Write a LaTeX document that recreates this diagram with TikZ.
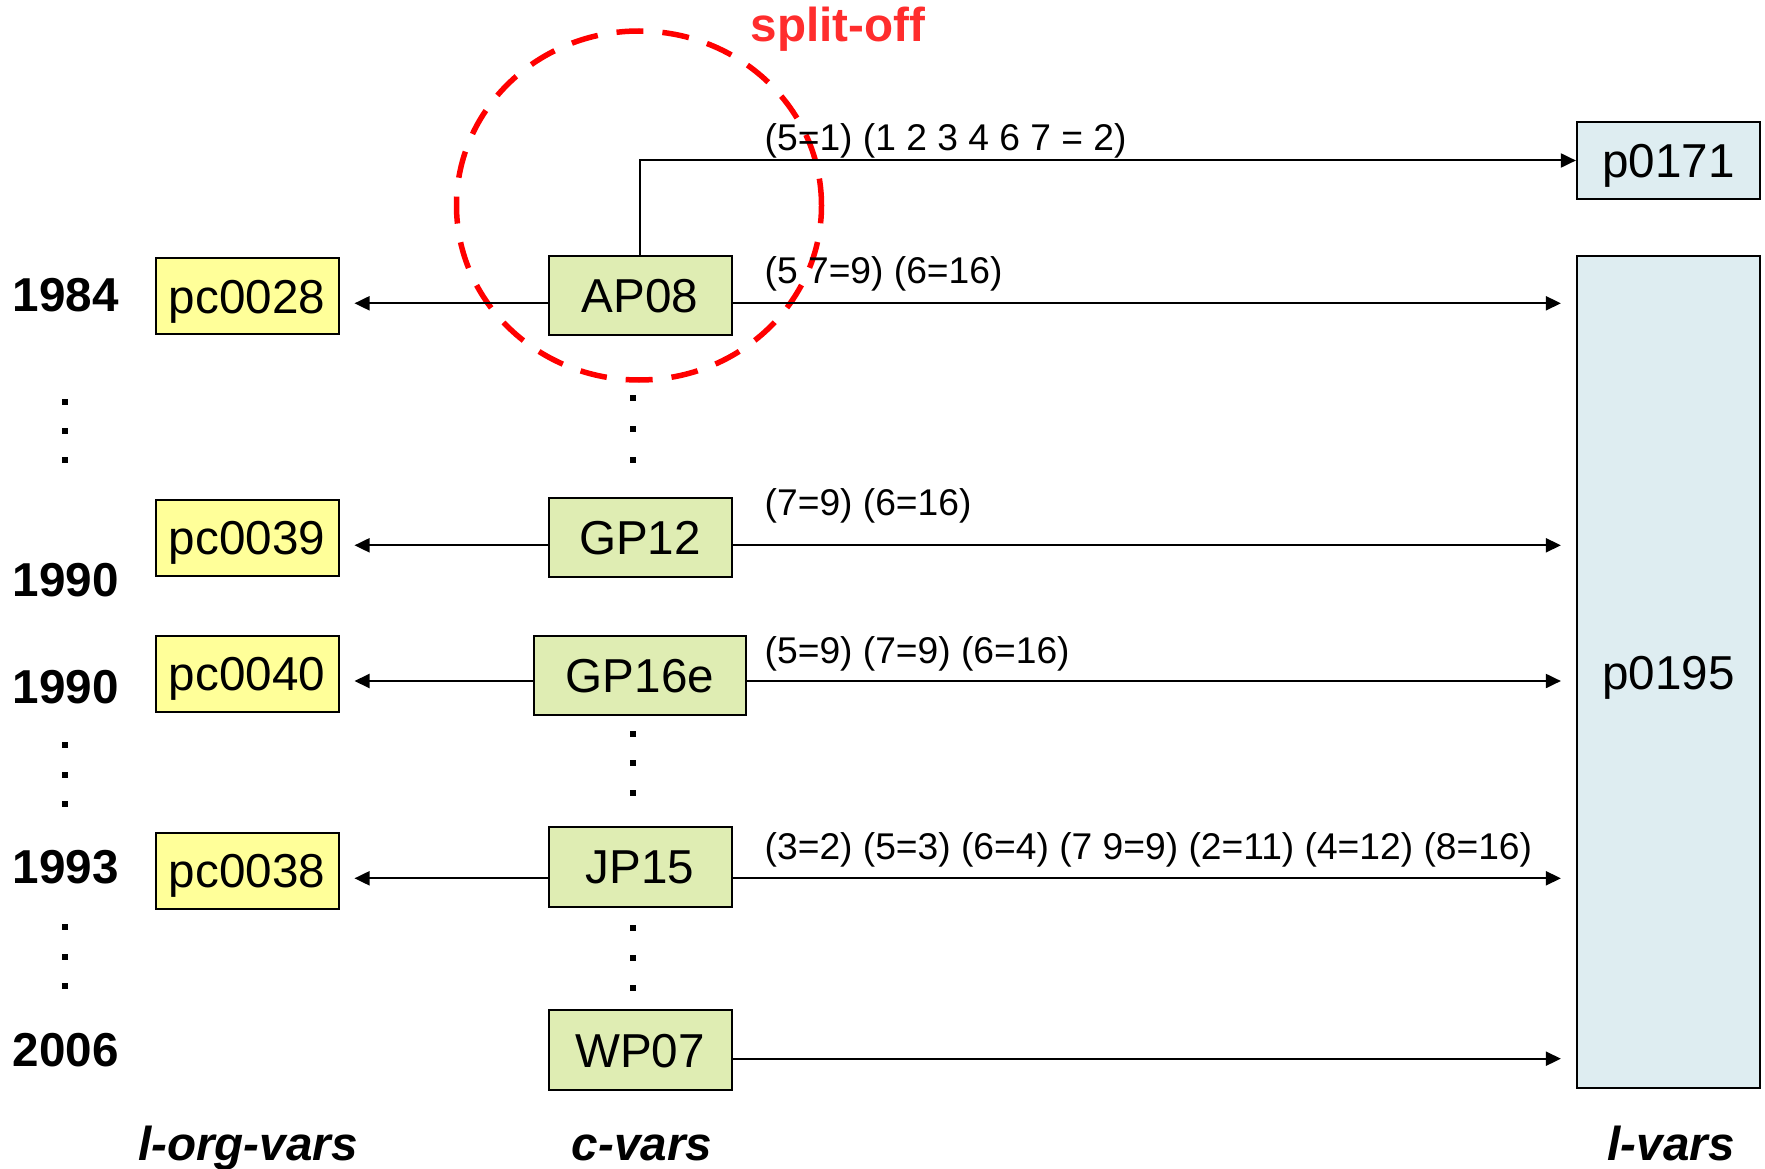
\documentclass[tikz,border=0pt]{standalone}
\usepackage{fontspec}
\setmainfont{Liberation Sans}
\usetikzlibrary{arrows.meta}
\definecolor{orgyellow}{RGB}{255,255,153}
\definecolor{cgreen}{RGB}{223,237,179}
\definecolor{lblue}{RGB}{222,237,241}
\definecolor{splitred}{RGB}{255,45,45}
\newcommand\fntbox{\fontsize{47.6}{56}\selectfont}
\newcommand\fntlbl{\fontsize{37.2}{44}\selectfont}

\begin{document}
\begin{tikzpicture}[x=1pt,y=-1pt,
  vbox/.style={draw=black, line width=2pt, inner sep=0pt, minimum width=183pt,
    text height=34pt, text depth=0pt, font=\fntbox},
  orgbox/.style={vbox, fill=orgyellow, minimum height=76pt},
  cbox/.style={vbox, fill=cgreen, minimum height=79pt},
  lbox/.style={vbox, fill=lblue},
  link/.style={line width=2pt, -{Triangle[length=15pt,width=14pt]}},
  lbl/.style={anchor=base west, inner sep=0pt, font=\fntlbl},
  year/.style={anchor=base west, inner sep=0pt, font=\fntbox\bfseries},
  colhead/.style={anchor=base, inner sep=0pt, font=\fntbox\bfseries\itshape},
  ring/.style={draw=red, line width=5.5pt, dash pattern=on 27pt off 19pt}
]
\useasboundingbox (0,0) rectangle (1765,1169);

% dashed ring marking the split-off
\draw[ring] (639,205.5) ellipse [x radius=182.5pt, y radius=174.5pt];
\node[anchor=base west, inner sep=0pt, text=splitred, font=\fntbox\bfseries]
  (split) at (750.5,41.7) {split-off};

% l-org-vars
\node[orgbox] (pc0028) at (247,296)   {pc0028};
\node[orgbox] (pc0039) at (247,537.5) {pc0039};
\node[orgbox] (pc0040) at (247,673.7) {pc0040};
\node[orgbox] (pc0038) at (247,870.5) {pc0038};

% c-vars
\node[cbox] (AP08) at (640,295.5) {AP08};
\node[cbox] (GP12) at (640,537.5) {GP12};
\node[cbox, minimum width=212pt] (GP16e) at (640,675) {GP16e};
\node[cbox, minimum height=80pt] (JP15) at (640,866.7) {JP15};
\node[cbox, minimum height=80pt] (WP07) at (640,1050) {WP07};

% l-vars
\node[lbox, minimum height=77.6pt] (p0171) at (1668.4,160.5) {p0171};
\node[lbox, minimum height=832pt] (p0195) at (1668.4,672) {p0195};

% years
\node[year] (y1984) at (12.5,311.7) {1984};
\node[year] (y1990a) at (12.5,596) {1990};
\node[year] (y1990b) at (12.5,703.3) {1990};
\node[year] (y1993) at (12.5,883.3) {1993};
\node[year] (y2006) at (12.5,1066.7) {2006};

% column headings
\node[colhead] (hOrg) at (248,1160) {l-org-vars};
\node[colhead] (hC)   at (642,1160) {c-vars};
\node[colhead] (hL)   at (1671,1160) {l-vars};

% row heights of the connectors
\coordinate (rA) at (0,303.3);
\coordinate (rB) at (0,545.3);
\coordinate (rC) at (0,681);
\coordinate (rD) at (0,878.3);
\coordinate (rE) at (0,1058.7);

% connectors
\draw[link] (AP08.north) |- (p0171.west);
\draw[link, shorten >=15pt] (AP08.west |- rA) -- (pc0028.east |- rA);
\draw[link, shorten >=15pt] (AP08.east |- rA) -- (p0195.west |- rA);
\draw[link, shorten >=15pt] (GP12.west |- rB) -- (pc0039.east |- rB);
\draw[link, shorten >=15pt] (GP12.east |- rB) -- (p0195.west |- rB);
\draw[link, shorten >=15pt] (GP16e.west |- rC) -- (pc0040.east |- rC);
\draw[link, shorten >=15pt] (GP16e.east |- rC) -- (p0195.west |- rC);
\draw[link, shorten >=15pt] (JP15.west |- rD) -- (pc0038.east |- rD);
\draw[link, shorten >=15pt] (JP15.east |- rD) -- (p0195.west |- rD);
\draw[link, shorten >=15pt] (WP07.east |- rE) -- (p0195.west |- rE);

% recoding labels
\node[lbl] (mAPa) at (764.5,150.8) {(5=1) (1 2 3 4 6 7 = 2)};
\node[lbl] (mAPb) at (764.5,283.5) {(5 7=9) (6=16)};
\node[lbl] (mGPa) at (764.5,515.6) {(7=9) (6=16)};
\node[lbl] (mGPb) at (764.5,663) {(5=9) (7=9) (6=16)};
\node[lbl] (mJP)  at (764.5,859) {(3=2) (5=3) (6=4) (7 9=9) (2=11) (4=12) (8=16)};

% ellipsis dots
\foreach \yy in {401.7,430.7,460,745,775,804,927,956.7,986}
  \fill (62.3,\yy-3.2) rectangle ++(5.5,6.5);
\foreach \yy in {398,429,460,734,763,792.7,928,957.7,987.7}
  \fill (630,\yy-3.2) rectangle ++(5.5,6.5);
\end{tikzpicture}
\end{document}
